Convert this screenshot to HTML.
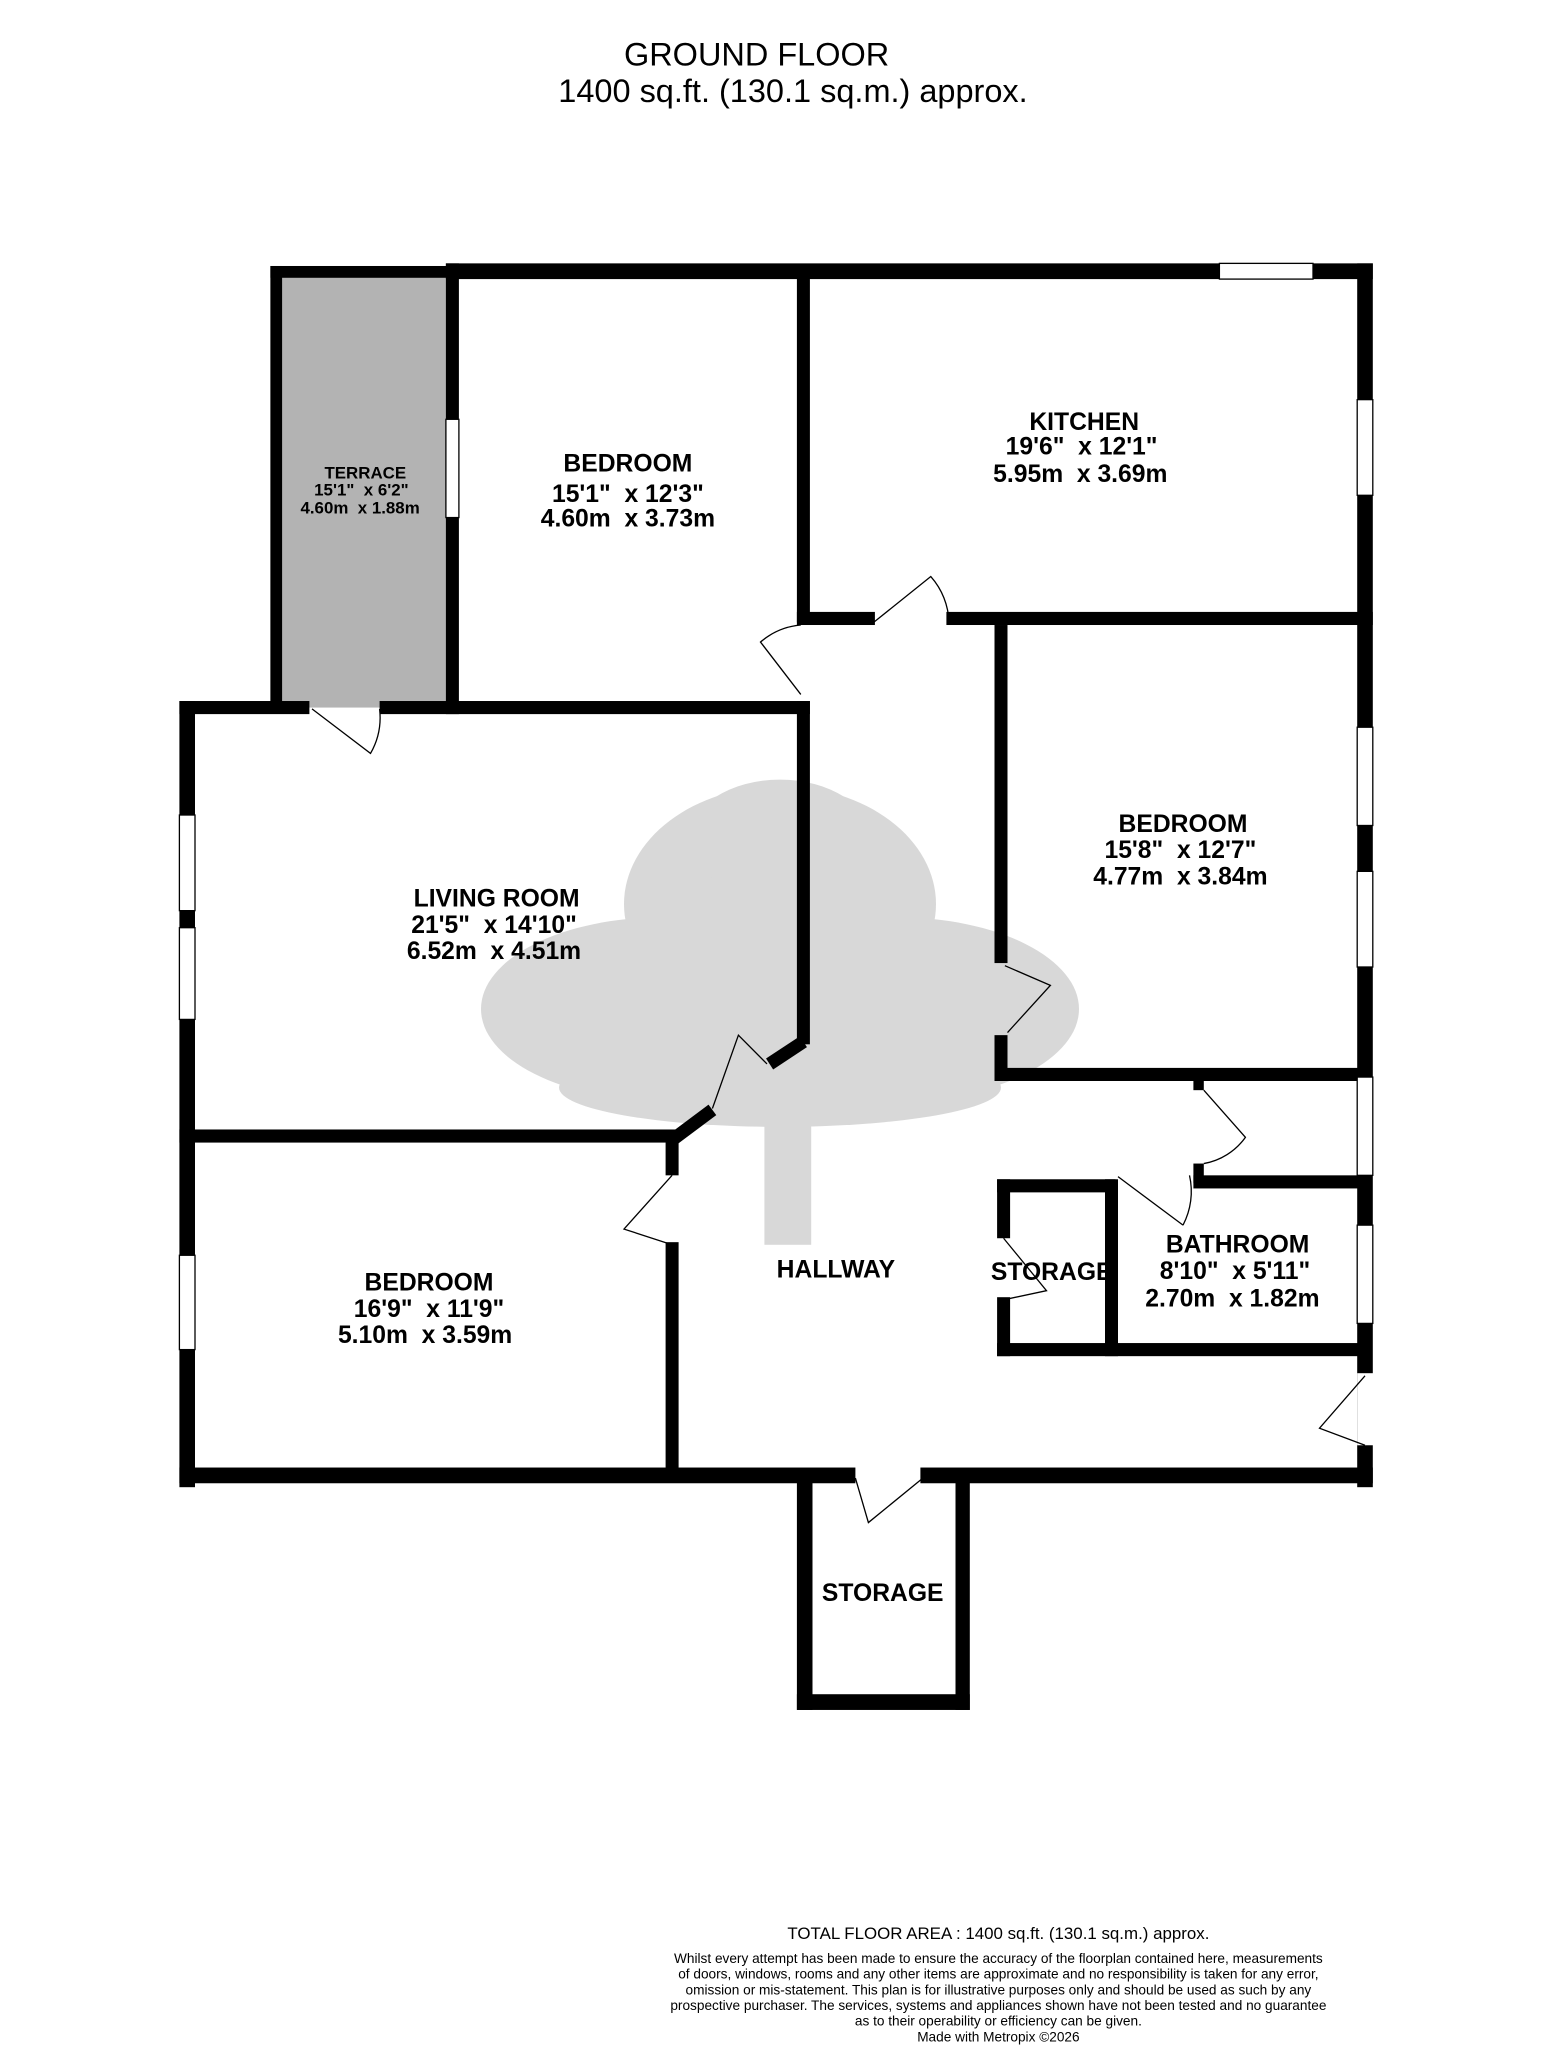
<!DOCTYPE html>
<html><head><meta charset="utf-8"><style>
html,body{margin:0;padding:0;background:#fff;}
svg{display:block;}
text{font-family:"Liberation Sans",sans-serif;fill:#000;white-space:pre;}
.b{font-weight:bold;text-anchor:middle;font-size:19px;}
.s{font-weight:bold;text-anchor:middle;font-size:13px;}
</style></head><body>
<svg width="1560" height="2048" viewBox="0 0 1200 1563" preserveAspectRatio="none" xmlns="http://www.w3.org/2000/svg">
<rect width="1200" height="1576" fill="#fff"/>
<text x="582" y="50" font-size="25" text-anchor="middle">GROUND FLOOR</text>
<text x="610" y="78" font-size="25" text-anchor="middle">1400 sq.ft. (130.1 sq.m.) approx.</text>
<rect x="208" y="205" width="144" height="335" fill="#b3b3b3"/>
<g fill="#c8c8c8" opacity="0.7">
<ellipse cx="600" cy="690" rx="120" ry="90"/>
<ellipse cx="510" cy="770" rx="140" ry="70"/>
<ellipse cx="690" cy="770" rx="140" ry="70"/>
<ellipse cx="600" cy="640" rx="70" ry="45"/>
<ellipse cx="600" cy="830" rx="170" ry="30"/>
<rect x="588" y="850" width="36" height="100"/>
</g>
<g fill="#000">
<rect x="208" y="203" width="9" height="337"/>
<rect x="208" y="203" width="144" height="9"/>
<rect x="343" y="201" width="713" height="12"/>
<rect x="343" y="201" width="10" height="344"/>
<rect x="613" y="205" width="10" height="270"/>
<rect x="613" y="467" width="60" height="10"/>
<rect x="728" y="467" width="328" height="10"/>
<rect x="1044" y="201" width="12" height="934"/>
<rect x="765" y="477" width="10" height="258"/>
<rect x="765" y="790" width="10" height="35"/>
<rect x="765" y="815" width="290" height="10"/>
<rect x="138" y="535" width="100" height="10"/>
<rect x="292" y="535" width="331" height="10"/>
<rect x="613" y="535" width="10" height="262"/>
<rect x="138" y="535" width="12" height="600"/>
<rect x="138" y="862" width="382" height="10"/>
<rect x="512" y="865" width="10" height="32"/>
<rect x="512" y="948" width="10" height="180"/>
<rect x="138" y="1120" width="520" height="12"/>
<rect x="708" y="1120" width="348" height="12"/>
<rect x="613" y="1125" width="12" height="180"/>
<rect x="735" y="1125" width="11" height="180"/>
<rect x="613" y="1293" width="133" height="12"/>
<rect x="767" y="900" width="10" height="45"/>
<rect x="767" y="990" width="10" height="45"/>
<rect x="767" y="900" width="91" height="10"/>
<rect x="918" y="897" width="132" height="10"/>
<rect x="850" y="900" width="10" height="135"/>
<rect x="767" y="1025" width="288" height="10"/>
<rect x="918" y="822" width="8" height="10"/>
<rect x="918" y="888" width="8" height="15"/>
</g>
<g stroke="#000" stroke-width="10" fill="none">
<polyline points="618,795 592,812"/>
<polyline points="517,870 548,847"/>
</g>
<g fill="#fff" stroke="#000" stroke-width="1">
<rect x="343" y="320" width="10" height="75"/>
<rect x="938" y="201" width="72" height="12"/>
<rect x="1044" y="305" width="12" height="73"/>
<rect x="1044" y="555" width="12" height="75"/>
<rect x="1044" y="665" width="12" height="73"/>
<rect x="1044" y="822" width="12" height="75"/>
<rect x="1044" y="935" width="12" height="75"/>
<rect x="138" y="622" width="12" height="73"/>
<rect x="138" y="708" width="12" height="70"/>
<rect x="138" y="958" width="12" height="72"/>
<rect x="1044" y="1048" width="14" height="55" stroke="none"/>
</g>
<g stroke="#000" stroke-width="1" fill="none">
<path d="M240,541 L285,575 A55,55 0 0 0 292,541"/>
<path d="M616,530 L585,490 A55,55 0 0 1 616,477"/>
<path d="M672,475 L716,440 A55,55 0 0 1 730,475"/>
<path d="M773,737 L808,752 L775,788"/>
<path d="M926,832 L958,868 A50,50 0 0 1 926,888"/>
<path d="M860,898 L910,935"/>
<path d="M915,897 A55,55 0 0 1 910,935"/>
<path d="M517,897 L480,938 L517,950"/>
<path d="M548,846 L568,790 L590,812"/>
<path d="M772,945 L805,985 L772,992"/>
<path d="M1050,1050 L1015,1090 L1050,1103"/>
<path d="M658,1128 L668,1162 L710,1128"/>
</g>
<text class="s" x="281" y="365">TERRACE</text>
<text class="s" x="278" y="378">15'1"  x 6'2"</text>
<text class="s" x="277" y="392">4.60m  x 1.88m</text>
<text class="b" x="483" y="360">BEDROOM</text>
<text class="b" x="483" y="383">15'1"  x 12'3"</text>
<text class="b" x="483" y="402">4.60m  x 3.73m</text>
<text class="b" x="834" y="328">KITCHEN</text>
<text class="b" x="832" y="347">19'6"  x 12'1"</text>
<text class="b" x="831" y="368">5.95m  x 3.69m</text>
<text class="b" x="910" y="635">BEDROOM</text>
<text class="b" x="908" y="655">15'8"  x 12'7"</text>
<text class="b" x="908" y="675">4.77m  x 3.84m</text>
<text class="b" x="382" y="692">LIVING ROOM</text>
<text class="b" x="380" y="712">21'5"  x 14'10"</text>
<text class="b" x="380" y="732">6.52m  x 4.51m</text>
<text class="b" x="330" y="985">BEDROOM</text>
<text class="b" x="330" y="1005">16'9"  x 11'9"</text>
<text class="b" x="327" y="1025">5.10m  x 3.59m</text>
<text class="b" x="643" y="975">HALLWAY</text>
<text class="b" x="809" y="977">STORAGE</text>
<text class="b" x="952" y="956">BATHROOM</text>
<text class="b" x="950" y="976">8'10"  x 5'11"</text>
<text class="b" x="948" y="997">2.70m  x 1.82m</text>
<text class="b" x="679" y="1222">STORAGE</text>
<text x="768" y="1480" font-size="13" text-anchor="middle">TOTAL FLOOR AREA : 1400 sq.ft. (130.1 sq.m.) approx.</text>
<g font-size="10.5" text-anchor="middle">
<text x="768" y="1498">Whilst every attempt has been made to ensure the accuracy of the floorplan contained here, measurements</text>
<text x="768" y="1510">of doors, windows, rooms and any other items are approximate and no responsibility is taken for any error,</text>
<text x="768" y="1522">omission or mis-statement. This plan is for illustrative purposes only and should be used as such by any</text>
<text x="768" y="1534">prospective purchaser. The services, systems and appliances shown have not been tested and no guarantee</text>
<text x="768" y="1546">as to their operability or efficiency can be given.</text>
<text x="768" y="1558">Made with Metropix ©2026</text>
</g>
</svg>
</body></html>
